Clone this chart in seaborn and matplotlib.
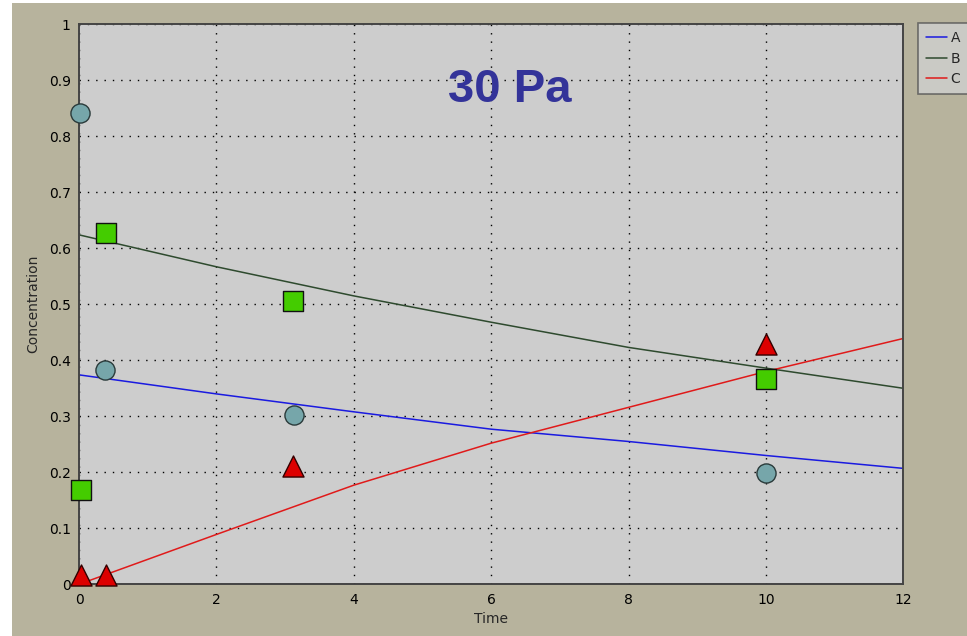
import pandas as pd
import matplotlib.pyplot as plt
import seaborn as sns
from matplotlib.patches import Rectangle

# measured points
t_meas = [0.02, 0.38, 3.13, 10.0]
A_meas = [0.842, 0.383, 0.303, 0.199]
B_t = [0.03, 0.39, 3.12, 10.0]
B_meas = [0.168, 0.628, 0.506, 0.367]
C_t = [0.03, 0.39, 3.12, 10.0]
C_meas = [0.017, 0.017, 0.211, 0.429]

# fitted curves, read at even times
t_fit = [0, 2, 4, 6, 8, 10, 12]
A_fit = [0.374, 0.340, 0.308, 0.277, 0.255, 0.230, 0.207]
B_fit = [0.624, 0.567, 0.515, 0.468, 0.423, 0.386, 0.350]
C_fit = [0.0, 0.089, 0.177, 0.252, 0.316, 0.380, 0.439]

x_ticks = [0, 2, 4, 6, 8, 10, 12]
y_ticks = [0, 0.1, 0.2, 0.3, 0.4, 0.5, 0.6, 0.7, 0.8, 0.9, 1]
y_labels = ["0", "0.1", "0.2", "0.3", "0.4", "0.5", "0.6", "0.7", "0.8", "0.9", "1"]

line_colors = {"A": "#1a1ae0", "B": "#2e4a2e", "C": "#e01a1a"}

fits = pd.DataFrame({
    "Time": t_fit * 3,
    "Concentration": A_fit + B_fit + C_fit,
    "species": ["A"] * 7 + ["B"] * 7 + ["C"] * 7,
})

sns.set_style("white")
plt.rcParams["font.family"] = ["DejaVu Sans"]

fig = plt.figure(figsize=(9.67, 6.36), dpi=100, facecolor="#b7b39d")
ax = fig.add_axes([0.0817, 0.0813, 0.8525, 0.8805])
ax.set_facecolor("#cdcdcd")

# white margin strips like the screenshot
fig.patches.append(Rectangle((0, 0), 12 / 967, 1, transform=fig.transFigure,
                             facecolor="white", edgecolor="none", zorder=-1))
fig.patches.append(Rectangle((0, 1 - 3 / 636), 1, 3 / 636, transform=fig.transFigure,
                             facecolor="white", edgecolor="none", zorder=-1))

sns.lineplot(data=fits, x="Time", y="Concentration", hue="species",
             palette=line_colors, linewidth=1.1, estimator=None, sort=False, ax=ax)

sns.scatterplot(x=t_meas, y=A_meas, marker="o", s=190, color="#76a6aa",
                edgecolor="#2a3a3a", linewidth=1, zorder=5, ax=ax, legend=False,
                clip_on=False)
sns.scatterplot(x=B_t, y=B_meas, marker="s", s=190, color="#44cc00",
                edgecolor="#111111", linewidth=1, zorder=5, ax=ax, legend=False,
                clip_on=False)
sns.scatterplot(x=C_t, y=C_meas, marker="^", s=230, color="#dd0000",
                edgecolor="#330000", linewidth=1, zorder=5, ax=ax, legend=False,
                clip_on=False)

ax.set_xlim(0, 12)
ax.set_ylim(0, 1)
ax.set_xticks(x_ticks)
ax.set_xticklabels([str(v) for v in x_ticks])
ax.set_yticks(y_ticks)
ax.set_yticklabels(y_labels)
ax.tick_params(length=0, labelsize=10, pad=6, colors="black")
ax.grid(True, color="black", linestyle=(0, (1, 5)), linewidth=1)

for s in ax.spines.values():
    s.set_color("#444444")
    s.set_linewidth(1.4)

ax.set_xlabel("Time", fontsize=10, labelpad=4)
ax.set_ylabel("Concentration", fontsize=10, labelpad=6)

ax.text(0.522, 0.883, "30 Pa", transform=ax.transAxes, ha="center", va="center",
        fontsize=34, fontweight="bold", color="#333399", family="Liberation Sans")

handles, labels = ax.get_legend_handles_labels()
leg = ax.legend(handles, labels, loc="upper left",
                bbox_to_anchor=(918 / 967, 1 - 23 / 636),
                bbox_transform=fig.transFigure, frameon=True, fancybox=False,
                fontsize=10, handlelength=1.5, handletextpad=0.25,
                labelspacing=0.45, borderpad=0.6, borderaxespad=0)
leg.get_frame().set_facecolor("#d0d0d0")
leg.get_frame().set_edgecolor("#555555")
leg.get_frame().set_linewidth(1.2)
leg.set_title(None)

fig.savefig("out.png", dpi=100, facecolor=fig.get_facecolor())
